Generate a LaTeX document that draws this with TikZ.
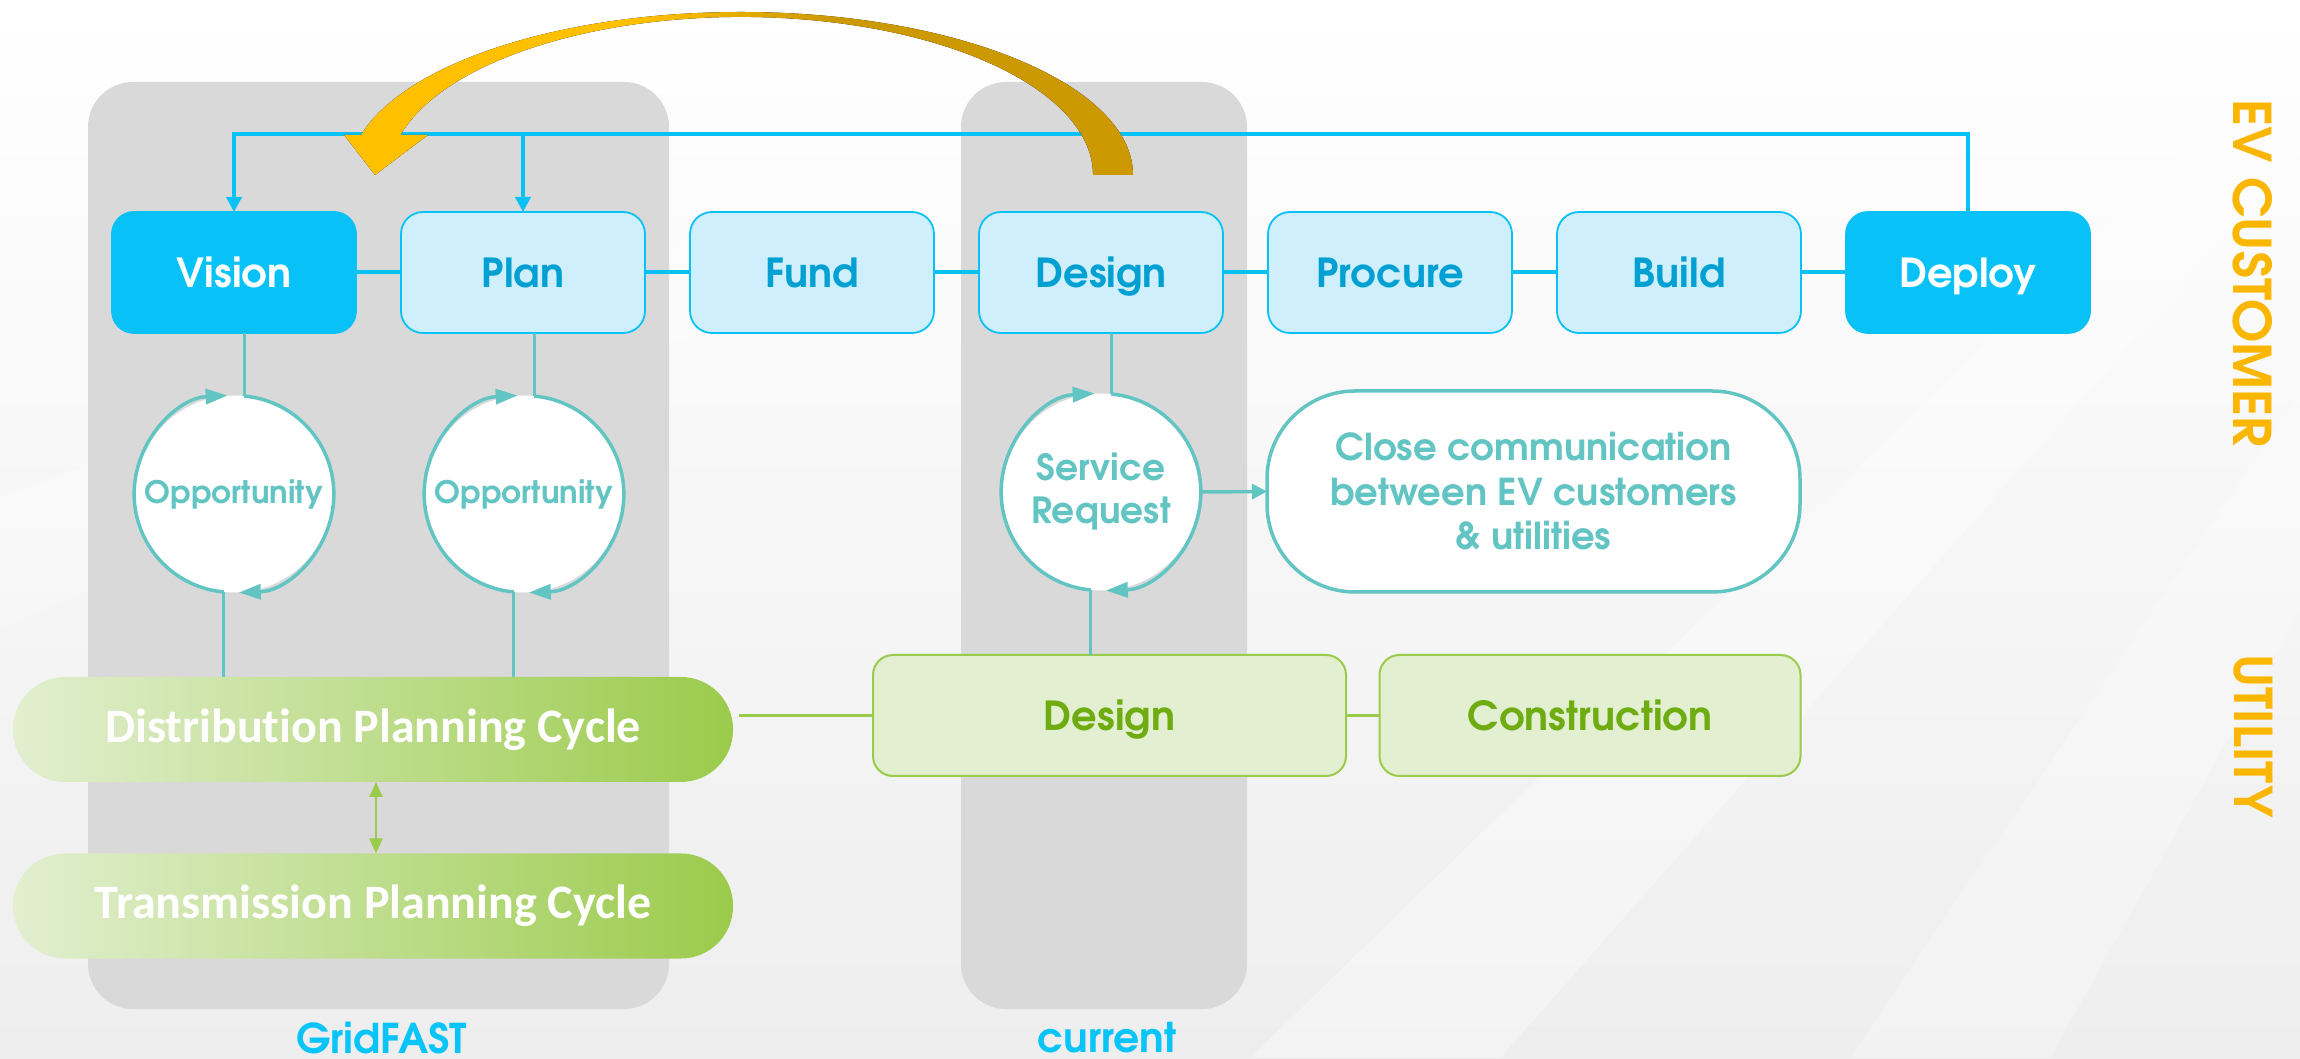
\documentclass[tikz,border=0pt]{standalone}
\usepackage{fontspec}
\newfontfamily\adv{texgyreadventor}[Extension=.otf,UprightFont=*-regular,BoldFont=*-bold]
\newfontfamily\carl{Carlito}[Ligatures=NoCommon]
\usetikzlibrary{arrows.meta,calc}
\definecolor{cyanB}{RGB}{8,194,247}
\definecolor{lightB}{RGB}{208,239,252}
\definecolor{textB}{RGB}{0,160,210}
\definecolor{tealC}{RGB}{99,197,195}
\definecolor{greenL}{RGB}{226,239,208}
\definecolor{greenD}{RGB}{155,203,75}
\definecolor{greenT}{RGB}{110,172,18}
\definecolor{colG}{RGB}{217,217,217}
\definecolor{yelA}{RGB}{255,192,0}
\definecolor{yelB}{RGB}{204,153,0}
\definecolor{labY}{RGB}{250,182,0}
\definecolor{labB}{RGB}{8,196,247}
\definecolor{bgB}{RGB}{238,238,238}
\pgfdeclarehorizontalshading{yelsh}{100bp}{color(0bp)=(yelA); color(44bp)=(yelA); color(56bp)=(yelB); color(100bp)=(yelB)}
\begin{document}
\begin{tikzpicture}[x=1pt,y=1pt,
  topbox/.style={draw=cyanB, line width=1.8pt, fill=lightB, text=textB, rounded corners=22pt,
    minimum width=244pt, minimum height=121pt, inner sep=0pt, outer sep=0pt,
    text height=38pt, text depth=8pt, font=\adv\bfseries\fontsize{40}{48}\selectfont},
  topdark/.style={topbox, fill=cyanB, draw=cyanB, text=white},
  gbox/.style={draw=greenD, line width=2pt, fill=greenL, text=greenT, rounded corners=20pt,
    minimum height=121pt, inner sep=0pt, outer sep=0pt,
    text height=38pt, text depth=8pt, font=\adv\bfseries\fontsize{40}{48}\selectfont},
  cbar/.style={rounded corners=52pt, minimum width=720pt, minimum height=105pt, inner sep=0pt, outer sep=0pt,
    left color=greenL, right color=greenD, text=white, font=\carl\bfseries\fontsize{48}{56}\selectfont},
  circ/.style={circle, fill=white, minimum size=197pt, inner sep=0pt, outer sep=0pt, text=tealC, align=center},
  bline/.style={draw=cyanB, line width=4pt},
  tl/.style={draw=tealC, line width=3.5pt},
  gline/.style={draw=greenD, line width=3.5pt},
  btip/.style={-{Triangle[length=15pt,width=15pt]}},
  ttip/.style={-{Triangle[length=22pt,width=15pt]}},
  side/.style={text=labY, rotate=-90, inner sep=0pt, font=\adv\bfseries\fontsize{52}{60}\selectfont},
  bottomlab/.style={text=labB, anchor=base, inner sep=0pt, font=\adv\bfseries\fontsize{41}{48}\selectfont}
]
\useasboundingbox (0,0) rectangle (2300,1058);
% background
\fill[top color=white, bottom color=bgB] (0,0) rectangle (2300,1058);
\fill[white, opacity=0.35] (3000,1700) -- (1250,0) -- (1500,0) -- cycle;
\fill[white, opacity=0.25] (3000,1700) -- (1850,0) -- (2050,0) -- cycle;
\fill[white, opacity=0.25] (3000,1700) -- (0,430) -- (0,560) -- cycle;

% gray columns
\fill[colG, rounded corners=45pt] (88,49) rectangle (669,976);
\fill[colG, rounded corners=45pt] (961,49) rectangle (1247,976);

% top row
\node[topdark] (vision) at (234,785.5) {Vision};
\node[topbox] (plan) at (523,785.5) {Plan};
\node[topbox] (fund) at (812,785.5) {Fund};
\node[topbox] (design) at (1101,785.5) {Design};
\node[topbox] (procure) at (1390,785.5) {Procure};
\node[topbox] (build) at (1679,785.5) {Build};
\node[topdark] (deploy) at (1968,785.5) {Deploy};

\draw[bline] (vision.east) -- (plan.west);
\draw[bline] (plan.east) -- (fund.west);
\draw[bline] (fund.east) -- (design.west);
\draw[bline] (design.east) -- (procure.west);
\draw[bline] (procure.east) -- (build.west);
\draw[bline] (build.east) -- (deploy.west);

\coordinate (topline) at (0,924);
\draw[bline, btip, line join=miter] (deploy.north) -- (deploy.north |- topline) -- (vision.north |- topline) -- (vision.north);
\draw[bline, btip] (plan.north |- topline) -- (plan.north);

% circles
\node[circ, font=\adv\bfseries\fontsize{31}{36}\selectfont] (opp1) at (234,564) {Opportunity};
\node[circ, font=\adv\bfseries\fontsize{31}{36}\selectfont] (opp2) at (524,564) {Opportunity};
\node[circ, font=\adv\bfseries\fontsize{36}{43}\selectfont] (sr) at (1101,566) {Service\\Request};

\node[draw=tealC, line width=3.5pt, fill=white, rounded corners=88pt, minimum width=533pt, minimum height=201pt,
  inner sep=0pt, outer sep=0pt, text=tealC, align=center, font=\adv\bfseries\fontsize{37}{44.5}\selectfont]
  (comm) at (1533.5,566.5) {Close communication\\between EV customers\\\& utilities};

% bottom utility row
\node[cbar] (dist) at (373,328.5) {Distribution Planning Cycle};
\node[cbar] (trans) at (373,152) {Transmission Planning Cycle};
\node[gbox, minimum width=473pt] (udesign) at (1109.5,342.5) {Design};
\node[gbox, minimum width=421pt] (constr) at (1590,342.5) {Construction};

% cycle arcs and teal connectors
\foreach \c in {opp1,opp2,sr}{
  \draw[tl, ttip] (\c.264.8) arc[start angle=264.8, end angle=92.9, radius=98.5];
  \draw[tl, ttip] (\c.84.8) arc[start angle=84.8, end angle=-88, radius=98.5];
}
\draw[tl] (opp1.84.8) -- (opp1.84.8 |- vision.south);
\draw[tl] (opp2.84.8) -- (opp2.84.8 |- plan.south);
\draw[tl] (sr.84.8) -- (sr.84.8 |- design.south);
\draw[tl] (opp1.264.8) -- (opp1.264.8 |- dist.north);
\draw[tl] (opp2.264.8) -- (opp2.264.8 |- dist.north);
\draw[tl] (sr.264.8) -- (sr.264.8 |- udesign.north);
\draw[tl, btip] (sr.east) -- (comm.west);

% green connectors
\draw[gline] (udesign.west) -- ([xshift=6pt]udesign.west -| dist.east);
\draw[gline] (udesign.east) -- (constr.west);
\draw[draw=greenD, line width=2.5pt, {Triangle[length=15pt,width=13pt]}-{Triangle[length=15pt,width=13pt]}]
  ([xshift=3pt]dist.south) -- ([xshift=3pt]trans.north);

% big curved arrow (two concentric half ellipses)
\fill[shading=yelsh]
  (1133,883) arc[start angle=0, end angle=165.8, x radius=392, y radius=163]
  -- (344,923) -- (375,883) -- (428,923) -- (400.5,923)
  arc[start angle=165.34, end angle=0, x radius=352, y radius=158]
  -- cycle;

% side labels
\node[side] (evc) at (2253,785) {EV CUSTOMER};
\node[side] (util) at (2253,322) {UTILITY};

% bottom labels
\node[bottomlab] (gridfast) at (381.5,5) {GridFAST};
\node[bottomlab] (current) at (1107,6) {current};
\end{tikzpicture}
\end{document}
